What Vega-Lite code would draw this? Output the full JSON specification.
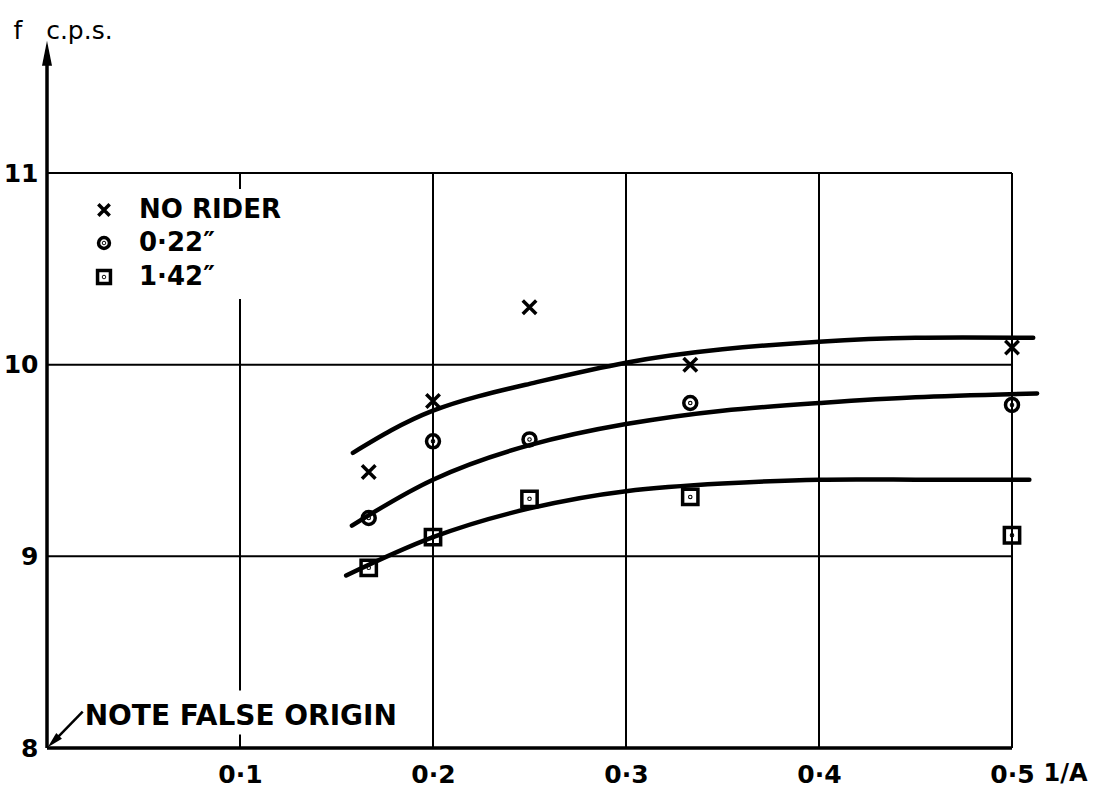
{
  "$schema": "https://vega.github.io/schema/vega-lite/v6.json",
  "width": 965,
  "height": 575,
  "autosize": "none",
  "padding": {"left": 47, "top": 173, "right": 86, "bottom": 40},
  "background": "white",
  "config": {
    "view": {"stroke": null},
    "font": "DejaVu Sans",
    "axis": {"labelColor": "black", "titleColor": "black", "labelFont": "DejaVu Sans", "titleFont": "DejaVu Sans", "labelFontWeight": "bold"}
  },
  "datasets": {
    "grid": [
      {"x": 0.1, "y": 8, "x2": 0.1, "y2": 8.07},
      {"x": 0.1, "y": 8.3, "x2": 0.1, "y2": 11},
      {"x": 0.2, "y": 8, "x2": 0.2, "y2": 11},
      {"x": 0.3, "y": 8, "x2": 0.3, "y2": 11},
      {"x": 0.4, "y": 8, "x2": 0.4, "y2": 11},
      {"x": 0.5, "y": 8, "x2": 0.5, "y2": 11},
      {"x": 0, "y": 9, "x2": 0.5, "y2": 9},
      {"x": 0, "y": 10, "x2": 0.5, "y2": 10},
      {"x": 0, "y": 11, "x2": 0.5, "y2": 11}
    ],
    "axislines": [
      {"x": 0, "y": 8, "x2": 0, "y2": 11.6},
      {"x": 0, "y": 8, "x2": 0.5, "y2": 8}
    ],
    "yarrow": [{"x": 0, "y": 11.69}],
    "notearrowhead": [{"x": 0.0004, "y": 8.004}],
    "noteline": [{"x": 0.004, "y": 8.04, "x2": 0.0185, "y2": 8.19}],
    "note": [{"x": 0.0195, "y": 8.12, "label": "NOTE FALSE ORIGIN"}],
    "points": [
      {"x": 0.1667, "y": 9.44, "series": "NO RIDER"},
      {"x": 0.2, "y": 9.81, "series": "NO RIDER"},
      {"x": 0.25, "y": 10.3, "series": "NO RIDER"},
      {"x": 0.3333, "y": 10.0, "series": "NO RIDER"},
      {"x": 0.5, "y": 10.09, "series": "NO RIDER"},
      {"x": 0.1667, "y": 9.2, "series": "0·22″"},
      {"x": 0.2, "y": 9.6, "series": "0·22″"},
      {"x": 0.25, "y": 9.61, "series": "0·22″"},
      {"x": 0.3333, "y": 9.8, "series": "0·22″"},
      {"x": 0.5, "y": 9.79, "series": "0·22″"},
      {"x": 0.1667, "y": 8.94, "series": "1·42″"},
      {"x": 0.2, "y": 9.1, "series": "1·42″"},
      {"x": 0.25, "y": 9.3, "series": "1·42″"},
      {"x": 0.3333, "y": 9.31, "series": "1·42″"},
      {"x": 0.5, "y": 9.11, "series": "1·42″"}
    ],
    "curves": [
      {"x": 0.1585, "y": 9.54, "curve": "top"},
      {"x": 0.2, "y": 9.76, "curve": "top"},
      {"x": 0.25, "y": 9.9, "curve": "top"},
      {"x": 0.3, "y": 10.01, "curve": "top"},
      {"x": 0.35, "y": 10.08, "curve": "top"},
      {"x": 0.4, "y": 10.12, "curve": "top"},
      {"x": 0.45, "y": 10.14, "curve": "top"},
      {"x": 0.511, "y": 10.14, "curve": "top"},
      {"x": 0.158, "y": 9.16, "curve": "middle"},
      {"x": 0.2, "y": 9.4, "curve": "middle"},
      {"x": 0.25, "y": 9.58, "curve": "middle"},
      {"x": 0.3, "y": 9.69, "curve": "middle"},
      {"x": 0.35, "y": 9.76, "curve": "middle"},
      {"x": 0.4, "y": 9.8, "curve": "middle"},
      {"x": 0.45, "y": 9.83, "curve": "middle"},
      {"x": 0.513, "y": 9.85, "curve": "middle"},
      {"x": 0.155, "y": 8.9, "curve": "bottom"},
      {"x": 0.2, "y": 9.1, "curve": "bottom"},
      {"x": 0.25, "y": 9.25, "curve": "bottom"},
      {"x": 0.3, "y": 9.34, "curve": "bottom"},
      {"x": 0.35, "y": 9.38, "curve": "bottom"},
      {"x": 0.4, "y": 9.4, "curve": "bottom"},
      {"x": 0.45, "y": 9.4, "curve": "bottom"},
      {"x": 0.509, "y": 9.4, "curve": "bottom"}
    ]
  },
  "layer": [
    {
      "data": {"name": "grid"},
      "mark": {"type": "rule", "color": "black", "strokeWidth": 2},
      "encoding": {
        "x": {
          "field": "x", "type": "quantitative",
          "scale": {"domain": [0, 0.5], "nice": false, "zero": false},
          "axis": {
            "values": [0.1, 0.2, 0.3, 0.4, 0.5],
            "labelExpr": "replace(format(datum.value, '.1f'), '.', '·')",
            "domain": false, "ticks": false, "grid": false,
            "labelPadding": 14, "labelFontSize": 25, "labelFlush": false, "labelOverlap": false,
            "title": "1/A", "titleX": 996, "titleY": 32, "titleAlign": "left", "titleBaseline": "alphabetic",
            "titleFontSize": 24, "titleFontWeight": "bold"
          }
        },
        "y": {
          "field": "y", "type": "quantitative",
          "scale": {"domain": [8, 11], "nice": false, "zero": false},
          "axis": {
            "values": [8, 9, 10, 11],
            "format": "d",
            "domain": false, "ticks": false, "grid": false,
            "labelPadding": 9, "labelFontSize": 25,
            "title": "f\u00a0\u00a0\u00a0c.p.s.", "titleAngle": 0, "titleX": -34, "titleY": -135,
            "titleAlign": "left", "titleBaseline": "alphabetic", "titleFontSize": 25, "titleFontWeight": "normal"
          }
        },
        "x2": {"field": "x2"},
        "y2": {"field": "y2"}
      }
    },
    {
      "data": {"name": "axislines"},
      "mark": {"type": "rule", "color": "black", "strokeWidth": 3.5},
      "encoding": {
        "x": {"field": "x", "type": "quantitative"},
        "y": {"field": "y", "type": "quantitative"},
        "x2": {"field": "x2"},
        "y2": {"field": "y2"}
      }
    },
    {
      "data": {"name": "yarrow"},
      "mark": {"type": "point", "shape": "M 0 0 L 0.4 2 L -0.4 2 Z", "size": 625, "filled": true, "color": "black", "opacity": 1},
      "encoding": {
        "x": {"field": "x", "type": "quantitative"},
        "y": {"field": "y", "type": "quantitative"}
      }
    },
    {
      "data": {"name": "noteline"},
      "mark": {"type": "rule", "color": "black", "strokeWidth": 2.5},
      "encoding": {
        "x": {"field": "x", "type": "quantitative"},
        "y": {"field": "y", "type": "quantitative"},
        "x2": {"field": "x2"},
        "y2": {"field": "y2"}
      }
    },
    {
      "data": {"name": "notearrowhead"},
      "mark": {"type": "point", "shape": "M 0 0 L 0.5 2 L -0.5 2 Z", "size": 256, "filled": true, "color": "black", "opacity": 1, "angle": 225},
      "encoding": {
        "x": {"field": "x", "type": "quantitative"},
        "y": {"field": "y", "type": "quantitative"}
      }
    },
    {
      "data": {"name": "note"},
      "mark": {"type": "text", "align": "left", "baseline": "alphabetic", "fontSize": 28, "fontWeight": "bold", "color": "black", "font": "DejaVu Sans"},
      "encoding": {
        "x": {"field": "x", "type": "quantitative"},
        "y": {"field": "y", "type": "quantitative"},
        "text": {"field": "label"}
      }
    },
    {
      "data": {"name": "curves"},
      "mark": {"type": "line", "color": "black", "strokeWidth": 4.5, "interpolate": "natural", "strokeCap": "round"},
      "encoding": {
        "x": {"field": "x", "type": "quantitative"},
        "y": {"field": "y", "type": "quantitative"},
        "detail": {"field": "curve"}
      }
    },
    {
      "data": {"name": "points"},
      "mark": {"type": "point", "filled": false, "stroke": "black", "strokeWidth": 3.5, "size": 324, "opacity": 1},
      "encoding": {
        "x": {"field": "x", "type": "quantitative"},
        "y": {"field": "y", "type": "quantitative"},
        "shape": {
          "field": "series", "type": "nominal",
          "scale": {
            "domain": ["NO RIDER", "0·22″", "1·42″"],
            "range": [
              "M -0.75 -0.75 L 0.75 0.75 M 0.75 -0.75 L -0.75 0.75",
              "M 0.72 0 A 0.72 0.72 0 1 1 -0.72 0 A 0.72 0.72 0 1 1 0.72 0 Z M 0.06 0 A 0.06 0.06 0 1 1 -0.06 0 A 0.06 0.06 0 1 1 0.06 0 Z",
              "M -0.85 -0.85 L 0.85 -0.85 L 0.85 0.85 L -0.85 0.85 Z M 0.06 0 A 0.06 0.06 0 1 1 -0.06 0 A 0.06 0.06 0 1 1 0.06 0 Z"
            ]
          },
          "legend": {
            "orient": "none", "legendX": 36, "legendY": 16, "title": null,
            "fillColor": "white", "padding": 8,
            "labelFontSize": 26, "labelFont": "DejaVu Sans", "labelFontWeight": "bold", "labelColor": "black",
            "symbolSize": 230, "symbolStrokeWidth": 3.5, "symbolStrokeColor": "black", "symbolFillColor": "transparent",
            "labelOffset": 22, "rowPadding": 7
          }
        }
      }
    }
  ]
}
